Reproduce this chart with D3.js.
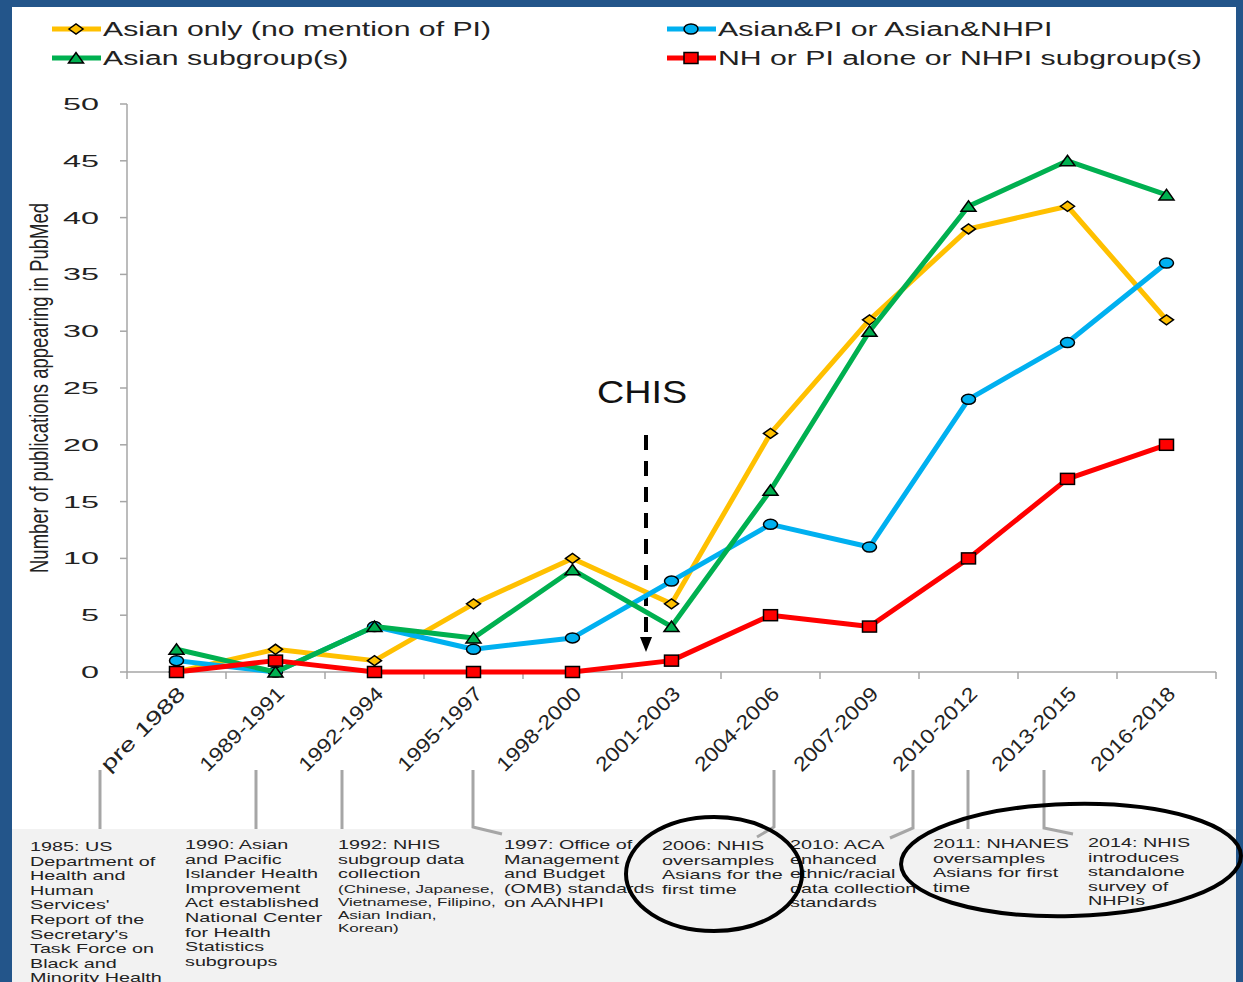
<!DOCTYPE html>
<html>
<head>
<meta charset="utf-8">
<script src="https://cdn.jsdelivr.net/npm/d3@7"></script>
<style>
  body { margin: 0; background: #23558a; }
  svg { display: block; }
  text { font-family: "Liberation Sans", Arial, sans-serif; }
</style>
</head>
<body>
<div id="chart"></div>
<script>
// chart data
var categories = ["pre 1988", "1989-1991", "1992-1994", "1995-1997", "1998-2000", "2001-2003",
                  "2004-2006", "2007-2009", "2010-2012", "2013-2015", "2016-2018"]
var asianOnly = [0, 2, 1, 6, 10, 6, 21, 31, 39, 41, 31]
var asianPI   = [1, 0, 4, 2, 3, 8, 13, 11, 24, 29, 36]
var asianSub  = [2, 0, 4, 3, 9, 4, 16, 30, 41, 45, 42]
var nhpi      = [0, 1, 0, 0, 0, 1, 5, 4, 10, 17, 20]
var yTicks = [0, 5, 10, 15, 20, 25, 30, 35, 40, 45, 50]
var seriesNames = ["Asian only (no mention of PI)", "Asian&PI or Asian&NHPI",
                   "Asian subgroup(s)", "NH or PI alone or NHPI subgroup(s)"]
var seriesColors = ["#ffc000", "#00b0f0", "#00b050", "#ff0000"]
var seriesShapes = ["diamond", "circle", "triangle", "square"]

// timeline notes under the chart
var notes = [
  ["1985: US", "Department of", "Health and", "Human", "Services'", "Report of the", "Secretary's", "Task Force on", "Black and", "Minority Health"],
  ["1990: Asian", "and Pacific", "Islander Health", "Improvement", "Act established", "National Center", "for Health", "Statistics", "subgroups"],
  ["1992: NHIS", "subgroup data", "collection", "(Chinese, Japanese,", "Vietnamese, Filipino,", "Asian Indian,", "Korean)"],
  ["1997: Office of", "Management", "and Budget", "(OMB) standards", "on AANHPI"],
  ["2006: NHIS", "oversamples", "Asians for the", "first time"],
  ["2010: ACA", "enhanced", "ethnic/racial", "data collection", "standards"],
  ["2011: NHANES", "oversamples", "Asians for first", "time"],
  ["2014: NHIS", "introduces", "standalone", "survey of", "NHPIs"]
]
var noteX = [30, 185, 338, 504, 662, 790, 933, 1088]
var noteY = [851, 849, 849, 849, 850, 849, 848, 847]

var width = 1243, height = 982

var svg = d3.select("#chart").append("svg")
    .attr("width", width)
    .attr("height", height)

// widen text horizontally (the slide font is very wide)
function stretch(sel, sx, anchor, fixed) {
    sel.each(function () {
        var t = d3.select(this)
        var L = fixed ? fixed : this.getComputedTextLength() * sx
        t.attr("textLength", L).attr("lengthAdjust", "spacingAndGlyphs")
        var x0 = +t.attr("x") || 0
        if (anchor == "end") t.attr("text-anchor", "start").attr("x", x0 - L)
        if (anchor == "middle") t.attr("text-anchor", "start").attr("x", x0 - L / 2)
    })
}

// panel
svg.append("rect").attr("x", 12).attr("y", 7).attr("width", 1224).attr("height", height - 7).attr("fill", "#fff")
svg.append("rect").attr("x", 12).attr("y", 829).attr("width", 1224).attr("height", height - 829).attr("fill", "#f2f2f2")

var x = d3.scaleBand().domain(categories).range([127, 1216]).padding(0)
var y = d3.scaleLinear().domain([0, 50]).range([672, 104])
var cx = function (i) { return x(categories[i]) + x.bandwidth() / 2 }

// y axis
svg.append("line").attr("x1", 127).attr("x2", 127).attr("y1", y(50)).attr("y2", y(0))
    .attr("stroke", "#a6a6a6").attr("stroke-width", 1.5)
svg.selectAll(".ytick").data(yTicks).enter().append("line")
    .attr("x1", 120).attr("x2", 127).attr("y1", d => y(d)).attr("y2", d => y(d))
    .attr("stroke", "#a6a6a6").attr("stroke-width", 1.5)
svg.selectAll(".ylab").data(yTicks).enter().append("text")
    .attr("x", 99).attr("y", d => y(d) + 6)
    .style("font-size", "17px").attr("fill", "#222")
    .text(d => d)
    .call(stretch, 1.9, "end")

// x axis
svg.append("line").attr("x1", 127).attr("x2", 1216).attr("y1", y(0)).attr("y2", y(0))
    .attr("stroke", "#a6a6a6").attr("stroke-width", 1.5)
var bounds = categories.map(c => x(c)).concat([1216])
svg.selectAll(".xtick").data(bounds).enter().append("line")
    .attr("x1", d => d).attr("x2", d => d).attr("y1", y(0)).attr("y2", y(0) + 7)
    .attr("stroke", "#a6a6a6").attr("stroke-width", 1.5)
svg.selectAll(".xlab").data(categories).enter().append("text")
    .attr("transform", (d, i) => "translate(" + (cx(i) + 10) + "," + 695 + ") rotate(-45)")
    .style("font-size", "20px").attr("fill", "#222")
    .text(d => d)
    .call(stretch, 1, "end", 110)

// y title
svg.append("text")
    .attr("transform", "translate(48,388) rotate(-90)")
    .attr("text-anchor", "middle")
    .style("font-family", "'Liberation Sans Narrow', 'Liberation Sans', sans-serif")
    .style("font-size", "25px").attr("fill", "#222")
    .attr("textLength", 370).attr("lengthAdjust", "spacingAndGlyphs")
    .text("Number of publications appearing in PubMed")

// CHIS marker
svg.append("text").attr("x", 642).attr("y", 403)
    .style("font-size", "32px").attr("fill", "#111")
    .text("CHIS")
    .call(stretch, 1.18, "middle")
svg.append("line").attr("x1", 646).attr("x2", 646).attr("y1", 435).attr("y2", 638)
    .attr("stroke", "#000").attr("stroke-width", 4).attr("stroke-dasharray", "15,11")
svg.append("path").attr("d", "M640,637 L652,637 L646,652 Z").attr("fill", "#000")

// marker drawing
function marker(g, shape, color, px, py) {
    var m
    if (shape == "diamond") m = g.append("path").attr("d", "M" + (px - 7) + "," + py + " L" + px + "," + (py - 5) + " L" + (px + 7) + "," + py + " L" + px + "," + (py + 5) + " Z")
    if (shape == "circle") m = g.append("ellipse").attr("cx", px).attr("cy", py).attr("rx", 7).attr("ry", 5)
    if (shape == "triangle") m = g.append("path").attr("d", "M" + (px - 7.5) + "," + (py + 5) + " L" + px + "," + (py - 5.5) + " L" + (px + 7.5) + "," + (py + 5) + " Z")
    if (shape == "square") m = g.append("rect").attr("x", px - 7).attr("y", py - 5.5).attr("width", 14).attr("height", 11)
    m.attr("fill", color).attr("stroke", "#000").attr("stroke-width", 1.5)
}

var allSeries = [asianOnly, asianPI, asianSub, nhpi]
var line = d3.line().x((d, i) => cx(i)).y(d => y(d))

allSeries.forEach(function (vals, s) {
    var g = svg.append("g")
    g.append("path").datum(vals).attr("d", line)
        .attr("fill", "none").attr("stroke", seriesColors[s])
        .attr("stroke-width", 5).attr("stroke-linejoin", "round")
    vals.forEach(function (v, i) { marker(g, seriesShapes[s], seriesColors[s], cx(i), y(v)) })
})

// legend
var legendPos = [[52, 29], [667, 29], [52, 58], [667, 58]]
seriesNames.forEach(function (name, s) {
    var lx = legendPos[s][0], ly = legendPos[s][1]
    var g = svg.append("g")
    g.append("line").attr("x1", lx).attr("x2", lx + 49).attr("y1", ly).attr("y2", ly)
        .attr("stroke", seriesColors[s]).attr("stroke-width", 5)
    marker(g, seriesShapes[s], seriesColors[s], lx + 24, ly)
    g.append("text").attr("x", lx + 51).attr("y", ly + 7)
        .style("font-size", "19.5px").attr("fill", "#222")
        .text(name)
        .call(stretch, 1.55)
})

// connectors from axis to notes
var connectors = [
    [[100, 770], [100, 829]],
    [[256, 770], [256, 829]],
    [[342, 770], [342, 829]],
    [[473, 770], [473, 827], [502, 834]],
    [[774, 770], [774, 827], [757, 837]],
    [[913, 770], [913, 828], [890, 838]],
    [[968, 770], [968, 829]],
    [[1044, 770], [1044, 828], [1073, 834]]
]
svg.selectAll(".conn").data(connectors).enter().append("path")
    .attr("d", d3.line())
    .attr("fill", "none").attr("stroke", "#a6a6a6").attr("stroke-width", 3)

// notes
notes.forEach(function (lines, k) {
    var yy = noteY[k]
    lines.forEach(function (t, j) {
        var small = k == 2 && j >= 3
        var fs = small ? 11.5 : 13
        svg.append("text").attr("x", noteX[k]).attr("y", yy)
            .style("font-size", fs + "px").attr("fill", "#222")
            .text(t)
            .call(stretch, small ? 1.48 : 1.52)
        yy += small ? 13 : 14.6
    })
})

// highlight rings
svg.append("ellipse").attr("cx", 714).attr("cy", 874).attr("rx", 88).attr("ry", 57)
    .attr("fill", "none").attr("stroke", "#000").attr("stroke-width", 4)
svg.append("ellipse").attr("cx", 1071).attr("cy", 860).attr("rx", 170).attr("ry", 56)
    .attr("transform", "rotate(-1.5,1071,860)")
    .attr("fill", "none").attr("stroke", "#000").attr("stroke-width", 4)
</script>
</body>
</html>
